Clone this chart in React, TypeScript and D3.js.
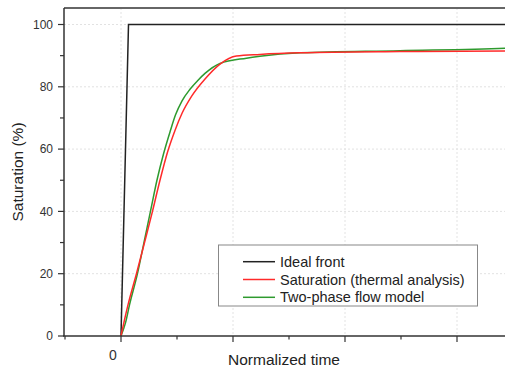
import { useEffect, useRef } from 'react';
import * as d3 from 'd3';

// Ideal front (normalized time, saturation %)
const idealTime = [0, 0.067, 3.5];
const idealSat = [0, 100, 100];

// Saturation from thermal analysis
const thermalTime = [0, 0.027, 0.0625, 0.138, 0.21, 0.281, 0.348, 0.415, 0.482, 0.545, 0.631, 0.75, 0.884, 1.03, 1.24, 1.6, 2.49, 3.43, 3.5];
const thermalSat = [0, 4.5, 10, 20, 30, 40, 50, 59, 66, 71.5, 77, 82.5, 87.3, 89.9, 90.4, 90.9, 91.3, 91.5, 91.5];

// Two-phase flow model
const modelTime = [0, 0.04, 0.076, 0.147, 0.205, 0.263, 0.321, 0.38, 0.4375, 0.487, 0.545, 0.616, 0.69, 0.75, 0.884, 1.12, 1.24, 1.6, 2.49, 3.43, 3.5];
const modelSat = [0, 4.2, 10, 20, 30, 40, 50, 58.5, 65.5, 71, 75.5, 79.2, 82.2, 84.3, 87.5, 89.2, 89.8, 90.9, 91.6, 92.4, 92.5];

const yMajorTicks = [0, 20, 40, 60, 80, 100];
const yMinorTicks = [10, 30, 50, 70, 90];
const xMajorTicks = [0, 1, 2, 3];
const xMinorTicks = [-0.5, 0.5, 1.5, 2.5];
const xTickLabels = ['0'];

const seriesNames = ['Ideal front', 'Saturation (thermal analysis)', 'Two-phase flow model'];

export default function App() {
  const svgRef = useRef<SVGSVGElement>(null);

  useEffect(() => {
    if (!svgRef.current) return;
    const svg = d3.select(svgRef.current);
    svg.selectAll('*').remove();

    const font = '"Liberation Sans", Arial, sans-serif';
    const x = d3.scaleLinear().domain([-0.5, 3.5]).range([65, 513]);
    const y = d3.scaleLinear().domain([0, 100]).range([336, 24.5]);
    const left = 64;
    const top = y(105.3);
    const bottom = y(0);
    const right = x(3.5);

    // grid
    const grid = svg.append('g').attr('stroke', '#e2e2e2').attr('stroke-dasharray', '2,2').attr('stroke-width', 1);
    yMajorTicks.filter(t => t > 0).forEach(t => {
      grid.append('line').attr('x1', left).attr('x2', right).attr('y1', y(t)).attr('y2', y(t));
    });
    xMajorTicks.forEach(t => {
      grid.append('line').attr('x1', x(t)).attr('x2', x(t)).attr('y1', top).attr('y2', bottom);
    });

    // lines
    const line = d3.line<[number, number]>()
      .x(d => x(d[0]))
      .y(d => y(d[1]));
    const smooth = d3.line<[number, number]>()
      .x(d => x(d[0]))
      .y(d => y(d[1]))
      .curve(d3.curveMonotoneX);

    svg.append('path')
      .attr('d', line(idealTime.map((t, i) => [t, idealSat[i]] as [number, number])))
      .attr('fill', 'none').attr('stroke', '#222').attr('stroke-width', 1.5);
    svg.append('path')
      .attr('d', smooth(modelTime.map((t, i) => [t, modelSat[i]] as [number, number])))
      .attr('fill', 'none').attr('stroke', '#2e9a2e').attr('stroke-width', 1.5);
    svg.append('path')
      .attr('d', smooth(thermalTime.map((t, i) => [t, thermalSat[i]] as [number, number])))
      .attr('fill', 'none').attr('stroke', '#ff2a2a').attr('stroke-width', 1.5);

    // frame
    svg.append('line').attr('x1', left).attr('x2', right).attr('y1', top).attr('y2', top)
      .attr('stroke', '#666').attr('stroke-width', 2);
    svg.append('line').attr('x1', left).attr('x2', left).attr('y1', top).attr('y2', bottom)
      .attr('stroke', '#333').attr('stroke-width', 1.5);
    svg.append('line').attr('x1', left - 1).attr('x2', right).attr('y1', bottom).attr('y2', bottom)
      .attr('stroke', '#333').attr('stroke-width', 1.5);

    // y ticks
    const yAxis = svg.append('g');
    yMajorTicks.forEach(t => {
      yAxis.append('line').attr('x1', left - 6).attr('x2', left).attr('y1', y(t)).attr('y2', y(t))
        .attr('stroke', '#333').attr('stroke-width', 1.2);
      yAxis.append('text').attr('x', left - 11).attr('y', y(t) + 4.2)
        .attr('text-anchor', 'end').attr('font-family', font).attr('font-size', '12px')
        .attr('fill', '#333').text(String(t));
    });
    yMinorTicks.forEach(t => {
      yAxis.append('line').attr('x1', left - 4).attr('x2', left).attr('y1', y(t)).attr('y2', y(t))
        .attr('stroke', '#333').attr('stroke-width', 1.2);
    });

    // x ticks
    const xAxis = svg.append('g');
    xMajorTicks.forEach((t, i) => {
      xAxis.append('line').attr('x1', x(t)).attr('x2', x(t)).attr('y1', bottom).attr('y2', bottom + 6)
        .attr('stroke', '#333').attr('stroke-width', 1.2);
      if (xTickLabels[i]) {
        xAxis.append('text').attr('x', x(t) - 8).attr('y', bottom + 24)
          .attr('text-anchor', 'middle').attr('font-family', font).attr('font-size', '14px')
          .attr('fill', '#333').text(xTickLabels[i]);
      }
    });
    xMinorTicks.forEach(t => {
      xAxis.append('line').attr('x1', x(t)).attr('x2', x(t)).attr('y1', bottom).attr('y2', bottom + 3.5)
        .attr('stroke', '#333').attr('stroke-width', 1.2);
    });

    // axis labels
    svg.append('text')
      .attr('x', 284).attr('y', 365)
      .attr('text-anchor', 'middle').attr('font-family', font).attr('font-size', '15.5px')
      .attr('fill', '#222').text('Normalized time');
    svg.append('text')
      .attr('transform', 'translate(23,172) rotate(-90)')
      .attr('text-anchor', 'middle').attr('font-family', font).attr('font-size', '15.5px')
      .attr('fill', '#222').text('Saturation (%)');

    // legend
    const legend = svg.append('g');
    legend.append('rect')
      .attr('x', 218.5).attr('y', 245).attr('width', 259).attr('height', 61)
      .attr('fill', 'white').attr('stroke', '#888').attr('stroke-width', 1);
    const colors = ['#222', '#ff2a2a', '#2e9a2e'];
    seriesNames.forEach((name, i) => {
      const ry = 261.7 + i * 17.8;
      legend.append('line').attr('x1', 243).attr('x2', 275).attr('y1', ry).attr('y2', ry)
        .attr('stroke', colors[i]).attr('stroke-width', 1.5);
      legend.append('text').attr('x', 280).attr('y', ry + 5)
        .attr('font-family', font).attr('font-size', '14.5px').attr('fill', '#222').text(name);
    });
  }, []);

  return (
    <svg
      ref={svgRef}
      width={505}
      height={369}
      style={{ position: 'absolute', left: 0, top: 0, background: 'white' }}
    />
  );
}
